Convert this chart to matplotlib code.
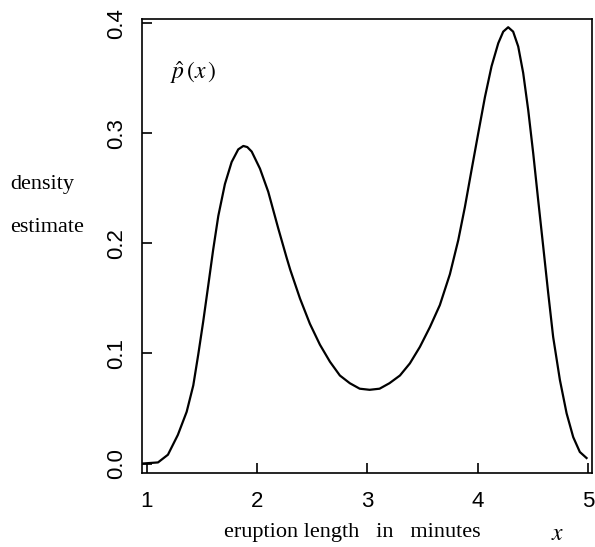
import matplotlib.pyplot as plt

plt.rcParams['mathtext.fontset'] = 'stix'

# density estimate
x = [0.96, 1.10, 1.19, 1.28, 1.36, 1.42, 1.465, 1.51, 1.556, 1.60, 1.647,
     1.707, 1.768, 1.828, 1.874, 1.91, 1.95, 2.025, 2.10, 2.19, 2.267, 2.30,
     2.388, 2.478, 2.569, 2.66, 2.75, 2.84, 2.93, 3.02, 3.11, 3.20, 3.295,
     3.385, 3.476, 3.567, 3.657, 3.748, 3.824, 3.884, 3.945, 4.005, 4.066,
     4.126, 4.187, 4.232, 4.277, 4.322, 4.368, 4.413, 4.459, 4.504, 4.549,
     4.595, 4.64, 4.685, 4.746, 4.807, 4.867, 4.927, 4.988]
p = [0.0, 0.001, 0.008, 0.026, 0.047, 0.071, 0.099, 0.129, 0.162, 0.194,
     0.225, 0.254, 0.274, 0.2855, 0.2886, 0.2876, 0.2835, 0.268, 0.247,
     0.214, 0.187, 0.176, 0.150, 0.127, 0.108, 0.0925, 0.080, 0.073, 0.068,
     0.067, 0.068, 0.073, 0.080, 0.091, 0.106, 0.124, 0.144, 0.172, 0.203,
     0.233, 0.267, 0.300, 0.333, 0.361, 0.382, 0.3925, 0.3965, 0.3925, 0.379,
     0.355, 0.321, 0.282, 0.2395, 0.197, 0.155, 0.115, 0.076, 0.0456, 0.024,
     0.0105, 0.005]

xticks = [1, 2, 3, 4, 5]
yticks = [0.0, 0.1, 0.2, 0.3, 0.4]

fig = plt.figure(figsize=(5.95, 5.47), dpi=100)
ax = fig.add_axes([0.2387, 0.1353, 0.756, 0.830])

ax.plot(x, p, color='black', lw=1.6, solid_joinstyle='round')

ax.set_xlim(0.955, 5.036)
ax.set_ylim(-0.0086, 0.404)
ax.set_xticks(xticks)
ax.set_xticklabels([str(t) for t in xticks])
ax.set_yticks(yticks)
ax.set_yticklabels(['%.1f' % t for t in yticks], rotation=90, va='center')
ax.tick_params(direction='in', length=7, width=1.2, labelsize=16)
ax.tick_params(axis='x', pad=13)
ax.tick_params(axis='y', pad=11)
for lab in ax.get_xticklabels() + ax.get_yticklabels():
    lab.set_family('Liberation Sans')
for s in ax.spines.values():
    s.set_linewidth(1.2)

serif = dict(family='Liberation Serif', fontsize=16)
fig.text(10 / 595, 1 - 185 / 547, 'density', ha='left', va='center', **serif)
fig.text(10 / 595, 1 - 228 / 547, 'estimate', ha='left', va='center', **serif)
fig.text(352 / 595, 1 - 533 / 547, 'eruption length   in   minutes',
         ha='center', va='center', **serif)
fig.text(558 / 595, 1 - 533 / 547, '$x$', ha='center', va='center', fontsize=17)
fig.text(170 / 595, 1 - 73 / 547, r'$\hat{p}\,(x\,)$', fontsize=17,
         ha='left', va='center')

fig.savefig('out.png', dpi=100)
